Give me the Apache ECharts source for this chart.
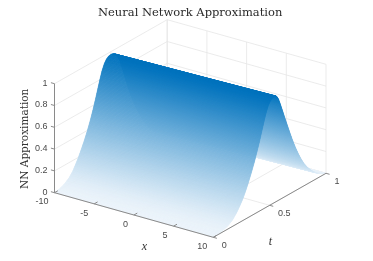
<!DOCTYPE html>
<html>
<head>
<meta charset="utf-8">
<style>html,body{margin:0;padding:0;background:#fff}#c{width:373px;height:261px;filter:blur(0.4px)}</style>
<script src="https://cdn.jsdelivr.net/npm/echarts@6/dist/echarts.min.js"></script>
</head>
<body>
<div id="c"></div>
<script>
// ---- values ----
const titleText = 'Neural Network Approximation';
const xTicks = [-10, -5, 0, 5, 10];
const tTicks = [0, 0.5, 1];
const zTicks = [0, 0.2, 0.4, 0.6, 0.8, 1];
const xTickLabels = ['-10', '-5', '0', '5', '10'];
const tTickLabels = ['0', '0.5', '1'];
const zTickLabels = ['0', '0.2', '0.4', '0.6', '0.8', '1'];
// surface height levels, front edge (t=0) over the crest to the far edge (t=1)
const surfaceZ = [0,.01,.03,.06,.1,.15,.2,.26,.32,.4,.48,.56,.64,.72,.8,.87,.925,.955,.97,.975,
                  .97,.955,.925,.87,.8,.72,.64,.56,.48,.4,.32,.26,.2,.15,.1,.06,.03,.01,0];
// t at which each level sits on the x=-10 edge
const tAtXMin = [0,.045,.09,.128,.16,.187,.212,.238,.263,.292,.318,.341,.362,.382,.402,.421,.442,.461,.479,.5,
                 .521,.539,.558,.579,.598,.618,.638,.659,.682,.708,.737,.762,.788,.813,.84,.872,.91,.955,1];
// t at which each level sits on the x=10 edge
const tAtXMax = [0,.08,.132,.172,.205,.236,.263,.289,.312,.34,.366,.389,.411,.431,.451,.47,.489,.507,.524,.545,
                 .556,.567,.58,.596,.615,.636,.658,.68,.703,.728,.756,.78,.807,.836,.872,.907,.945,.978,1];

// ---- view of the 3-D box on the page ----
const XMIN = -10, XMAX = 10;
function project(x, t, z) {
  return [54.5 + (x - XMIN) * 7.94 + t * 112.7,
          192.7 + (x - XMIN) * 2.23 - t * 64 - z * 109];
}
const low = [235, 243, 250], high = [0, 114, 189];
const zPeak = Math.max.apply(null, surfaceZ);
function shade(z) {
  const c = low.map((l, i) => Math.round(l + (high[i] - l) * z / zPeak));
  return 'rgb(' + c.join(',') + ')';
}

// surface shading bands under one pixel tall, drawn far to near
const bands = [];
for (let i = surfaceZ.length - 2; i >= 0; i--) {
  const h = Math.abs(surfaceZ[i + 1] - surfaceZ[i]) * 109 + Math.abs(tAtXMin[i + 1] - tAtXMin[i]) * 64;
  const n = Math.ceil(h / 0.7) + 1;
  for (let k = n - 1; k >= 0; k--) bands.push([i, k / n, (k + 1) / n]);
}
function mix(a, b, f) { return a + (b - a) * f; }
function surfaceItem(params, api) {
  const i = api.value(0), f0 = api.value(1), f1 = api.value(2);
  const z0 = mix(surfaceZ[i], surfaceZ[i + 1], f0), z1 = mix(surfaceZ[i], surfaceZ[i + 1], f1);
  const a1 = api.coord(project(XMIN, mix(tAtXMin[i], tAtXMin[i + 1], f0), z0));
  const a2 = api.coord(project(XMAX, mix(tAtXMax[i], tAtXMax[i + 1], f0), z0));
  const b1 = api.coord(project(XMIN, mix(tAtXMin[i], tAtXMin[i + 1], f1), z1));
  const b2 = api.coord(project(XMAX, mix(tAtXMax[i], tAtXMax[i + 1], f1), z1));
  const col = shade((z0 + z1) / 2);
  return {
    type: 'polygon',
    shape: {points: [a1, a2, b2, b1]},
    style: {fill: col, stroke: col, lineWidth: 0.5}
  };
}

// grid lines on floor and walls
const gridSegs = [];
xTicks.forEach(x => { gridSegs.push([x, 0, 0, x, 1, 0]); gridSegs.push([x, 1, 0, x, 1, 1]); });
tTicks.forEach(t => { gridSegs.push([XMIN, t, 0, XMAX, t, 0]); gridSegs.push([XMIN, t, 0, XMIN, t, 1]); });
zTicks.forEach(z => { gridSegs.push([XMIN, 0, z, XMIN, 1, z]); gridSegs.push([XMIN, 1, z, XMAX, 1, z]); });

// axis lines and their tick marks
const axisSegs = [
  [XMIN, 0, 0, XMAX, 0, 0],
  [XMAX, 0, 0, XMAX, 1, 0],
  [XMIN, 0, 0, XMIN, 0, 1]
];
xTicks.forEach(x => axisSegs.push([x, 0, 0, x, 0.03, 0]));
tTicks.forEach(t => axisSegs.push([XMAX, t, 0, XMAX + 0.45, t, 0]));
zTicks.forEach(z => axisSegs.push([XMIN, 0, z, XMIN - 0.45, 0, z]));

function segItem(color, width) {
  return function (params, api) {
    const a = api.coord(project(api.value(0), api.value(1), api.value(2)));
    const b = api.coord(project(api.value(3), api.value(4), api.value(5)));
    return {type: 'line', shape: {x1: a[0], y1: a[1], x2: b[0], y2: b[1]},
            style: {stroke: color, lineWidth: width}};
  };
}

// text placed from the data positions on the axes
const tickText = [];
xTicks.forEach((x, i) => tickText.push({p: [x, 0, 0], s: xTickLabels[i], dx: -6, dy: 9.3, align: 'right'}));
tTicks.forEach((t, i) => tickText.push({p: [XMAX, t, 0], s: tTickLabels[i], dx: 8.4, dy: 8, align: 'left'}));
zTicks.forEach((z, i) => tickText.push({p: [XMIN, 0, z], s: zTickLabels[i], dx: -7, dy: -0.5, align: 'right'}));

function tickItem(params, api) {
  const d = tickText[params.dataIndex];
  const c = api.coord(project(d.p[0], d.p[1], d.p[2]));
  return {type: 'text', x: c[0] + d.dx, y: c[1] + d.dy,
          style: {text: d.s, fill: '#4a4a4a', font: '9px "Liberation Sans", Arial, sans-serif',
                  align: d.align, verticalAlign: 'middle'}};
}

const noAxis = {show: false};
const chart = echarts.init(document.getElementById('c'), null, {renderer: 'canvas'});
chart.setOption({
  animation: false,
  backgroundColor: '#fff',
  title: {
    text: titleText, left: 93, top: 2,
    textStyle: {fontFamily: '"DejaVu Serif", serif', fontSize: 11.5, fontWeight: 'normal', color: '#2a2a2a'}
  },
  grid: {left: 0, right: 0, top: 0, bottom: 0},
  xAxis: Object.assign({type: 'value', min: 0, max: 373}, noAxis),
  yAxis: Object.assign({type: 'value', min: 0, max: 261, inverse: true}, noAxis),
  graphic: [
    {type: 'text', x: 25, y: 138.8, rotation: Math.PI / 2,
     style: {text: 'NN Approximation', fill: '#333', font: '10.5px "DejaVu Serif", serif', align: 'center', verticalAlign: 'middle'}},
    {type: 'text', x: 144.3, y: 247.3,
     style: {text: 'x', fill: '#333', font: 'italic 12px "Liberation Serif", serif', align: 'center', verticalAlign: 'middle'}},
    {type: 'text', x: 270.3, y: 242.3,
     style: {text: 't', fill: '#333', font: 'italic 12px "Liberation Serif", serif', align: 'center', verticalAlign: 'middle'}}
  ],
  series: [
    {type: 'custom', name: 'grid', coordinateSystem: 'cartesian2d', silent: true, clip: false,
     renderItem: segItem('#e6e6e6', 0.8), data: gridSegs, encode: {x: [], y: []}},
    {type: 'custom', name: 'surface', coordinateSystem: 'cartesian2d', silent: true, clip: false,
     renderItem: surfaceItem, data: bands, encode: {x: [], y: []}},
    {type: 'custom', name: 'axes', coordinateSystem: 'cartesian2d', silent: true, clip: false,
     renderItem: segItem('#8a8a8a', 1), data: axisSegs, encode: {x: [], y: []}},
    {type: 'custom', name: 'ticks', coordinateSystem: 'cartesian2d', silent: true, clip: false,
     renderItem: tickItem, data: tickText.map((d, i) => [i]), encode: {x: [], y: []}}
  ]
});
</script>
</body>
</html>
